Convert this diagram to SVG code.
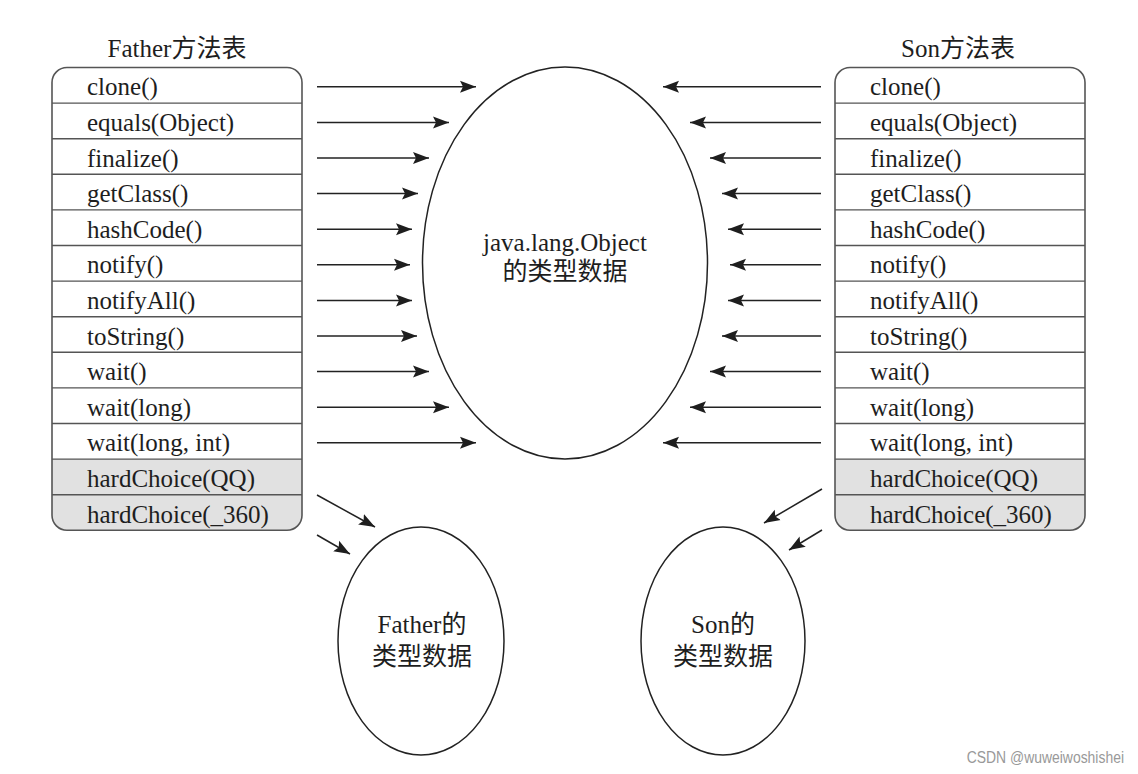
<svg xmlns="http://www.w3.org/2000/svg" width="1138" height="774" viewBox="0 0 1138 774">
<style>
  .t { font-family: "Liberation Serif", "Noto Sans CJK SC", serif; font-size: 25px; fill: #1e1e1e; }
  .c { text-anchor: middle; }
  .tbl { fill: none; stroke: #555; stroke-width: 1.6; }
  .div { stroke: #555; stroke-width: 1.4; }
  .gray { fill: #e1e1e1; }
  .ell { fill: #fff; stroke: #222; stroke-width: 1.5; }
  .arr { stroke: #222; stroke-width: 1.5; fill: none; marker-end: url(#ah); }
  .wm { font-family: "Liberation Sans", sans-serif; font-size: 17px; fill: #999; }
</style>
<defs>
  <marker id="ah" markerUnits="userSpaceOnUse" markerWidth="17" markerHeight="13" refX="16" refY="6.5" orient="auto">
    <path d="M0,0.5 L16,6.5 L0,12.5 L3,6.5 Z" fill="#1e1e1e"/>
  </marker>
</defs>
<rect width="1138" height="774" fill="#fff"/>

<g id="father-table">
  <text class="t c" x="177" y="57">Father方法表</text>
  <rect x="52" y="67.5" width="250" height="462.8" rx="15" ry="15" fill="#fff"/>
  <path class="gray" d="M52,459.1 H302 V515.3 A15,15 0 0 1 287,530.3 H67 A15,15 0 0 1 52,515.3 Z"/>
  <path class="div" d="M52,103.1 H302 M52,138.7 H302 M52,174.3 H302 M52,209.9 H302 M52,245.5 H302 M52,281.1 H302 M52,316.7 H302 M52,352.3 H302 M52,387.9 H302 M52,423.5 H302 M52,459.1 H302 M52,494.7 H302"/>
  <rect class="tbl" x="52" y="67.5" width="250" height="462.8" rx="15" ry="15"/>
  <text class="t" x="87" y="95.3">clone()</text>
  <text class="t" x="87" y="130.9">equals(Object)</text>
  <text class="t" x="87" y="166.5">finalize()</text>
  <text class="t" x="87" y="202.1">getClass()</text>
  <text class="t" x="87" y="237.7">hashCode()</text>
  <text class="t" x="87" y="273.3">notify()</text>
  <text class="t" x="87" y="308.9">notifyAll()</text>
  <text class="t" x="87" y="344.5">toString()</text>
  <text class="t" x="87" y="380.1">wait()</text>
  <text class="t" x="87" y="415.7">wait(long)</text>
  <text class="t" x="87" y="451.3">wait(long, int)</text>
  <text class="t" x="87" y="486.9">hardChoice(QQ)</text>
  <text class="t" x="87" y="522.5">hardChoice(_360)</text>
</g>

<g id="son-table">
  <text class="t c" x="958" y="57">Son方法表</text>
  <rect x="835" y="67.5" width="250" height="462.8" rx="15" ry="15" fill="#fff"/>
  <path class="gray" d="M835,459.1 H1085 V515.3 A15,15 0 0 1 1070,530.3 H850 A15,15 0 0 1 835,515.3 Z"/>
  <path class="div" d="M835,103.1 H1085 M835,138.7 H1085 M835,174.3 H1085 M835,209.9 H1085 M835,245.5 H1085 M835,281.1 H1085 M835,316.7 H1085 M835,352.3 H1085 M835,387.9 H1085 M835,423.5 H1085 M835,459.1 H1085 M835,494.7 H1085"/>
  <rect class="tbl" x="835" y="67.5" width="250" height="462.8" rx="15" ry="15"/>
  <text class="t" x="870" y="95.3">clone()</text>
  <text class="t" x="870" y="130.9">equals(Object)</text>
  <text class="t" x="870" y="166.5">finalize()</text>
  <text class="t" x="870" y="202.1">getClass()</text>
  <text class="t" x="870" y="237.7">hashCode()</text>
  <text class="t" x="870" y="273.3">notify()</text>
  <text class="t" x="870" y="308.9">notifyAll()</text>
  <text class="t" x="870" y="344.5">toString()</text>
  <text class="t" x="870" y="380.1">wait()</text>
  <text class="t" x="870" y="415.7">wait(long)</text>
  <text class="t" x="870" y="451.3">wait(long, int)</text>
  <text class="t" x="870" y="486.9">hardChoice(QQ)</text>
  <text class="t" x="870" y="522.5">hardChoice(_360)</text>
</g>

<g id="object-type">
  <ellipse class="ell" cx="565" cy="263" rx="142.5" ry="196"/>
  <text class="t c" x="565" y="251">java.lang.Object</text>
  <text class="t c" x="565" y="280">的类型数据</text>
</g>

<g id="father-type">
  <ellipse class="ell" cx="421" cy="641" rx="83" ry="114"/>
  <text class="t c" x="422" y="633">Father的</text>
  <text class="t c" x="422" y="665">类型数据</text>
</g>

<g id="son-type">
  <ellipse class="ell" cx="723" cy="641" rx="82" ry="114"/>
  <text class="t c" x="723" y="633">Son的</text>
  <text class="t c" x="723" y="665">类型数据</text>
</g>

<g id="connectors">
  <line class="arr" x1="317" y1="86.8" x2="476" y2="86.8"/>
  <line class="arr" x1="317" y1="122.4" x2="449" y2="122.4"/>
  <line class="arr" x1="317" y1="158" x2="429" y2="158"/>
  <line class="arr" x1="317" y1="193.6" x2="418" y2="193.6"/>
  <line class="arr" x1="317" y1="229.2" x2="412" y2="229.2"/>
  <line class="arr" x1="317" y1="264.8" x2="410" y2="264.8"/>
  <line class="arr" x1="317" y1="300.4" x2="412" y2="300.4"/>
  <line class="arr" x1="317" y1="336" x2="417" y2="336"/>
  <line class="arr" x1="317" y1="371.6" x2="429" y2="371.6"/>
  <line class="arr" x1="317" y1="407.2" x2="449" y2="407.2"/>
  <line class="arr" x1="317" y1="442.8" x2="476" y2="442.8"/>

  <line class="arr" x1="821" y1="86.8" x2="663" y2="86.8"/>
  <line class="arr" x1="821" y1="122.4" x2="690" y2="122.4"/>
  <line class="arr" x1="821" y1="158" x2="710" y2="158"/>
  <line class="arr" x1="821" y1="193.6" x2="722" y2="193.6"/>
  <line class="arr" x1="821" y1="229.2" x2="728" y2="229.2"/>
  <line class="arr" x1="821" y1="264.8" x2="730" y2="264.8"/>
  <line class="arr" x1="821" y1="300.4" x2="728" y2="300.4"/>
  <line class="arr" x1="821" y1="336" x2="722" y2="336"/>
  <line class="arr" x1="821" y1="371.6" x2="710" y2="371.6"/>
  <line class="arr" x1="821" y1="407.2" x2="690" y2="407.2"/>
  <line class="arr" x1="821" y1="442.8" x2="663" y2="442.8"/>

  <line class="arr" x1="317" y1="495" x2="375" y2="527"/>
  <line class="arr" x1="317" y1="535" x2="350" y2="554"/>
  <line class="arr" x1="822" y1="489" x2="764" y2="523"/>
  <line class="arr" x1="822" y1="530" x2="789" y2="550"/>
</g>

<text class="wm" transform="translate(1124,763) scale(0.82,1)" x="0" y="0" text-anchor="end">CSDN @wuweiwoshishei</text>
</svg>
